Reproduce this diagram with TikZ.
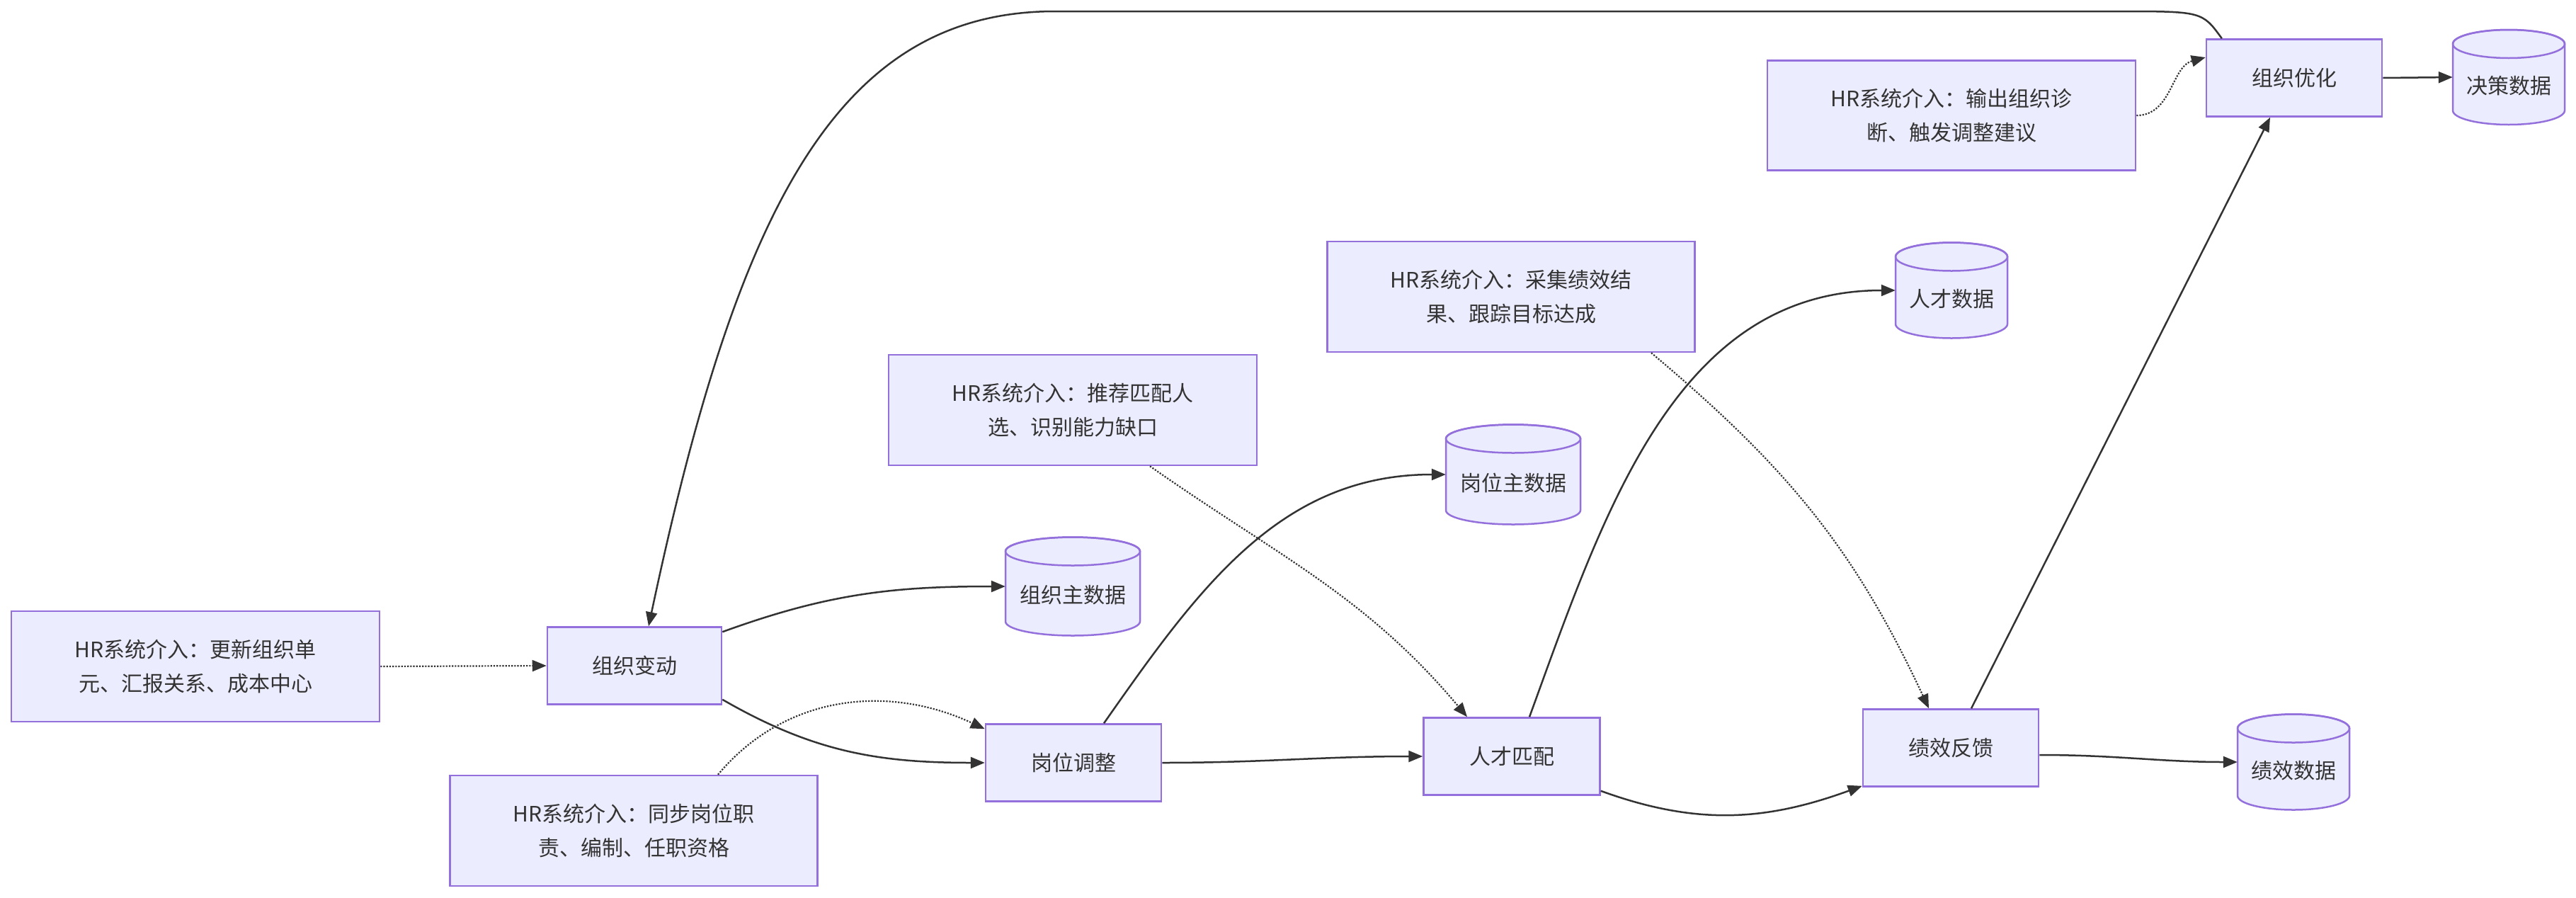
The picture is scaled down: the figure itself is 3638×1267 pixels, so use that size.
\documentclass[tikz,border=0pt]{standalone}
\usepackage{fontspec}
\setmainfont{Noto Sans CJK SC}
\usetikzlibrary{arrows.meta}
\definecolor{boxfill}{HTML}{ECECFF}
\definecolor{boxline}{HTML}{9370DB}
\definecolor{ink}{HTML}{333333}
\tikzset{
  proc/.style={draw=boxline, fill=boxfill, line width=2.5pt, inner sep=0, align=center, text=ink, font=\fontsize{30}{48}\selectfont},
  flow/.style={draw=ink, line width=2.5pt, -{Triangle[length=20pt,width=16pt]}},
  note/.style={draw=ink, line width=2.2pt, dotted, -{Triangle[length=20pt,width=16pt]}},
}
\newcommand\dbcyl[6]{%
  \pgfmathsetmacro\hw{#4/2}\pgfmathsetmacro\hh{#5/2}%
  \pgfmathsetmacro\ry{20}%
  \draw[draw=boxline, fill=boxfill, line width=2.5pt]
    (#2-\hw,#3-\hh+\ry) -- (#2-\hw,#3+\hh-\ry)
    arc[start angle=180,end angle=0,x radius=\hw,y radius=\ry]
    -- (#2+\hw,#3-\hh+\ry)
    arc[start angle=0,end angle=-180,x radius=\hw,y radius=\ry];
  \draw[draw=boxline, line width=2.5pt] (#2,#3-\hh+\ry) ellipse[x radius=\hw,y radius=\ry];
  \node[minimum width=#4, minimum height=#5, inner sep=0] (#1) at (#2,#3) {};
  \node[text=ink, font=\fontsize{30}{48}\selectfont] at (#2,#3+12) {#6};
}
\begin{document}
\begin{tikzpicture}[x=1pt,y=-1pt]
\useasboundingbox (0,0) rectangle (3638,1267);
\node[proc, minimum width=520, minimum height=156] (n1) at (276,941) {HR系统介入：更新组织单\\元、汇报关系、成本中心};
\node[proc, minimum width=246, minimum height=109] (zzbd) at (896,940) {组织变动};
\dbcyl{zzzsj}{1515}{828}{190}{139}{组织主数据}
\node[proc, minimum width=248, minimum height=109] (gwtz) at (1516,1077) {岗位调整};
\node[proc, minimum width=519, minimum height=156] (n2) at (895,1173) {HR系统介入：同步岗位职\\责、编制、任职资格};
\node[proc, minimum width=520, minimum height=156] (n3) at (1515,579) {HR系统介入：推荐匹配人\\选、识别能力缺口};
\dbcyl{gwzsj}{2137}{670}{190}{141}{岗位主数据}
\node[proc, minimum width=249, minimum height=109] (rcpp) at (2135,1068) {人才匹配};
\node[proc, minimum width=519, minimum height=156] (n4) at (2134,419) {HR系统介入：采集绩效结\\果、跟踪目标达成};
\dbcyl{rcsj}{2756}{410}{158}{135}{人才数据}
\node[proc, minimum width=248, minimum height=109] (jxfk) at (2755,1056) {绩效反馈};
\dbcyl{jxsj}{3239}{1076}{158}{135}{绩效数据}
\node[proc, minimum width=520, minimum height=155] (n5) at (2756,163) {HR系统介入：输出组织诊\\断、触发调整建议};
\node[proc, minimum width=248, minimum height=109] (zzyh) at (3240,110) {组织优化};
\dbcyl{jcsj}{3543}{109}{158}{134}{决策数据}

\draw[note] (n1.east) -- (zzbd.west);
\draw[flow] ([yshift=-8pt]zzbd.north east) to[out=20,in=180] (zzzsj.west);
\draw[flow] ([yshift=8pt]zzbd.south east) to[out=-30,in=180] (gwtz.west);
\draw[note] ([xshift=119pt]n2.north) to[out=50,in=155] ([yshift=-8pt]gwtz.north west);
\draw[flow] ([xshift=43pt]gwtz.north) to[out=55,in=180] (gwzsj.west);
\draw[flow] (gwtz.east) to[out=0,in=180] (rcpp.west);
\draw[note] ([xshift=109pt]n3.south) to[out=-35,in=130] ([xshift=-63pt]rcpp.north);
\draw[flow] ([xshift=25pt]rcpp.north) to[out=70,in=180] (rcsj.west);
\draw[flow] ([yshift=7pt]rcpp.south east) to[out=-20,in=200] ([yshift=2pt]jxfk.south west);
\draw[note] ([xshift=198pt]n4.south) to[out=-40,in=115] ([xshift=-31pt]jxfk.north);
\draw[flow] ([xshift=29pt]jxfk.north) -- ([xshift=-34pt]zzyh.south);
\draw[flow] ([yshift=-10pt]jxfk.east) to[out=0,in=180] (jxsj.west);
\draw[note] (n5.east) to[out=0,in=195] ([yshift=29pt]zzyh.west);
\draw[flow] (zzyh.east) -- (jcsj.west);
\draw[flow] ([xshift=23pt]zzyh.north west) .. controls (3110,16) .. (2990,16) -- (1490,16) .. controls (1180,16) and (1040,300) .. ([xshift=20pt]zzbd.north);
\end{tikzpicture}
\end{document}
